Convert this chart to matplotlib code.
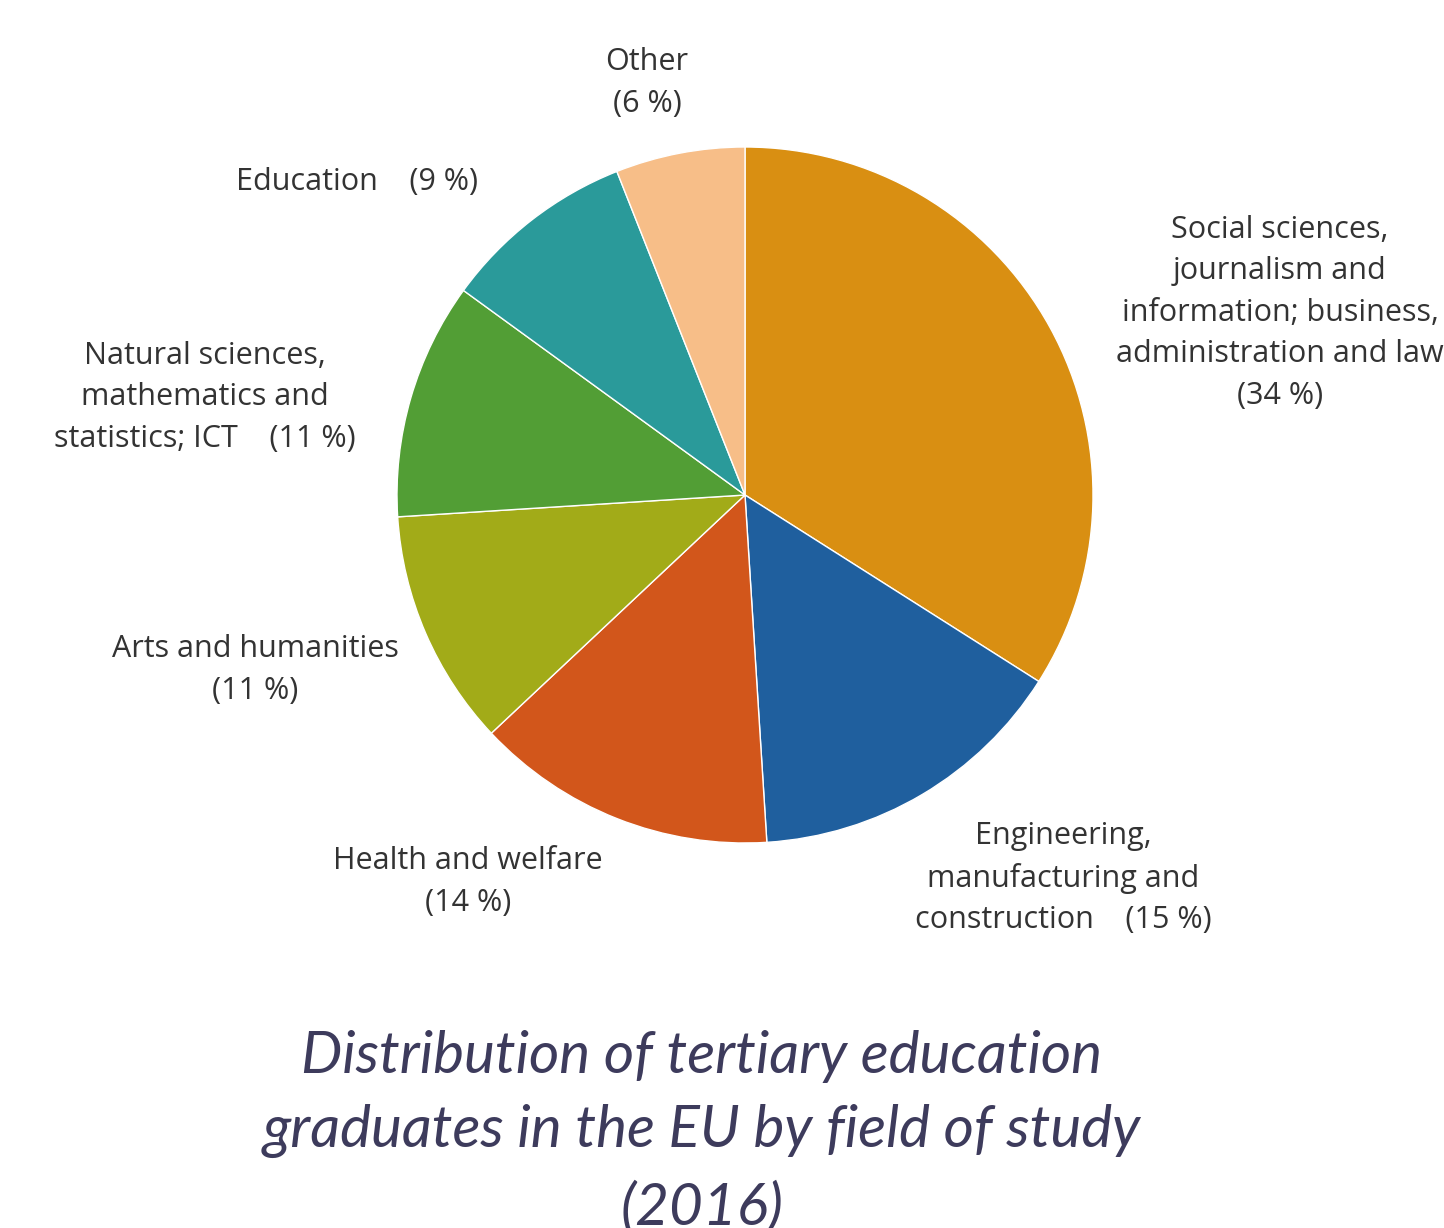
import matplotlib
matplotlib.use("Agg")
import matplotlib.pyplot as plt

# Data
fields = [
    "Social sciences,\njournalism and\ninformation; business,\nadministration and law",
    "Engineering,\nmanufacturing and\nconstruction",
    "Health and welfare",
    "Arts and humanities",
    "Natural sciences,\nmathematics and\nstatistics; ICT",
    "Education",
    "Other",
]
shares = [34, 15, 14, 11, 11, 9, 6]
colors = ["#D98F12", "#1F5F9E", "#D2561B", "#A2AB18", "#529E35", "#2A9A9A", "#F7BE88"]

W, H = 1444, 1228
fig = plt.figure(figsize=(W / 100, H / 100), dpi=100)
fig.patch.set_facecolor("white")

# pie centre / radius in pixels
cx, cy, r = 745, 495, 348
ax = fig.add_axes([(cx - r) / W, (H - cy - r) / H, 2 * r / W, 2 * r / H])
ax.pie(shares, colors=colors, startangle=90, counterclock=False,
       wedgeprops=dict(edgecolor="white", linewidth=1.0))
ax.set_xlim(-1, 1)
ax.set_ylim(-1, 1)
ax.set_aspect("equal")
ax.axis("off")

label_font = dict(family="Open Sans", fontsize=22, color="#333333",
                  linespacing=1.5, ha="center", va="center")

def px(x, y):
    return x / W, 1 - y / H

# label positions (pixel centres)
fig.text(*px(1280, 313), fields[0] + "\n(%d %%)" % shares[0], **label_font)
fig.text(*px(1063, 878), fields[1] + "    (%d %%)" % shares[1], **label_font)
fig.text(*px(468, 882), fields[2] + "\n(%d %%)" % shares[2], **label_font)
fig.text(*px(255, 670), fields[3] + "\n(%d %%)" % shares[3], **label_font)
fig.text(*px(205, 397), fields[4] + "    (%d %%)" % shares[4], **label_font)
fig.text(*px(357, 182), fields[5] + "    (%d %%)" % shares[5], **label_font)
fig.text(*px(647, 83), fields[6] + "\n(%d %%)" % shares[6], **label_font)

fig.text(*px(702, 1132),
         "Distribution of tertiary education\ngraduates in the EU by field of study\n(2016)",
         family="Lato", style="italic", fontsize=42, color="#3D3B5C",
         ha="center", va="center", linespacing=1.5)

fig.savefig("out.png", dpi=100)
